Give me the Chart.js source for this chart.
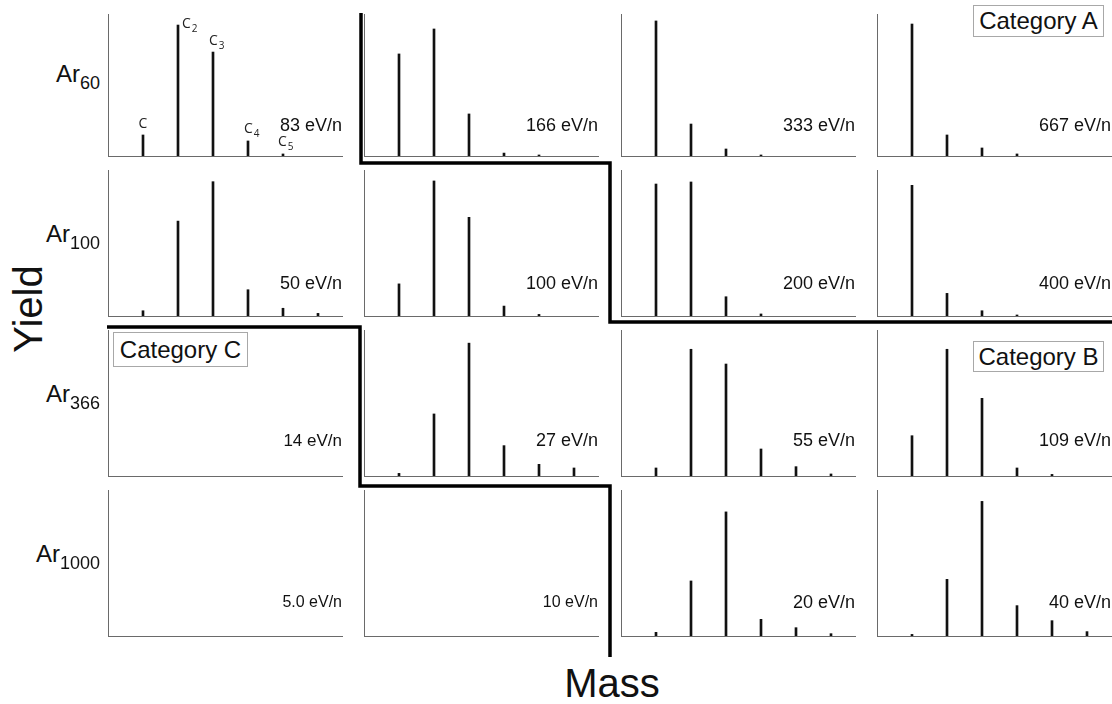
<!DOCTYPE html>
<html>
<head>
<meta charset="utf-8">
<script src="https://cdn.jsdelivr.net/npm/chart.js@4.4.1/dist/chart.umd.min.js"></script>
<style>
  body { margin: 0; background: #fff; }
  #page { position: relative; width: 1112px; height: 704px; overflow: hidden; font-family: "Liberation Sans", Arial, sans-serif; color: #111; }
  #page canvas { position: absolute; }
  .txt { position: absolute; line-height: 1; white-space: nowrap; }
  .box { position: absolute; border: 1px solid #a8a8a8; background: #fff; font-size: 24px; line-height: 1; display: flex; align-items: center; justify-content: center; box-sizing: border-box; }
  sub { font-size: 18px; vertical-align: baseline; position: relative; top: 7px; }
</style>
</head>
<body>
<div id="page">
  <svg id="steps" width="1112" height="704" style="position:absolute;left:0;top:0;z-index:2">
    <polyline points="361,13 361,163 610,163 610,322 1112,322" fill="none" stroke="#000" stroke-width="3.5"/>
    <polyline points="107,327 360,327 360,486 610,486 610,657" fill="none" stroke="#000" stroke-width="3.5"/>
  </svg>
</div>
<script>
// cluster size n for each stick (C, C2, C3 ...)
const clusterSizes = [1, 2, 3, 4, 5, 6];
const clusterNames = ['C', 'C2', 'C3', 'C4', 'C5'];

// argon cluster sizes (rows) and energy per nucleon (columns)
const argonSizes = ['60', '100', '366', '1000'];
const energyLabels = [
    ['83', '166', '333', '667'],
    ['50', '100', '200', '400'],
    ['14', '27', '55', '109'],
    ['5.0', '10', '20', '40']
];

// yields, % of panel height, one array per energy
const yieldAr60 = [
    [14.4, 89.7, 71.2, 10.3, 1.4],
    [69.9, 87.0, 28.8, 2.0, 0.7],
    [92.5, 21.9, 4.8, 0.7],
    [90.4, 14.4, 5.5, 1.4]
];
const yieldAr100 = [
    [3.6, 65.0, 92.0, 18.0, 5.3, 1.8],
    [22.0, 92.5, 67.6, 6.8, 1.1],
    [90.4, 91.8, 13.2, 1.4],
    [89.5, 15.5, 3.6, 0.7]
];
const yieldAr366 = [
    [],
    [1.8, 42.5, 91.0, 20.8, 8.0, 5.5],
    [5.5, 86.8, 76.7, 18.5, 6.4, 1.4],
    [27.6, 86.8, 53.2, 5.5, 1.1]
];
const yieldAr1000 = [
    [],
    [],
    [2.5, 37.7, 85.0, 11.4, 5.7, 1.6],
    [1.1, 38.8, 92.2, 20.8, 10.5, 3.0]
];
const allYields = [yieldAr60, yieldAr100, yieldAr366, yieldAr1000];

// layout of the grid
const colLeft = [108, 364, 621, 877];
const panelW = 234;
const rowTop = [14, 170, 330, 490];
const rowBase = [156, 316, 476, 636];
const fullH = 146;
const evBase = [131, 289, 446, 608];
const evSize = [[18, 18, 18, 18], [18, 18, 18, 18], [17, 18, 18, 18], [16, 16, 18, 18]];
const PAD = 4;

const page = document.getElementById('page');

function addText(html, left, baseline, size, extra) {
    const d = document.createElement('div');
    d.className = 'txt';
    d.innerHTML = html;
    d.style.fontSize = size + 'px';
    d.style.top = (baseline - 0.85 * size) + 'px';
    d.style.left = left + 'px';
    if (extra) Object.assign(d.style, extra);
    page.appendChild(d);
    return d;
}

// labels above the sticks of the first panel
const clusterLabelPlugin = {
    id: 'clusterLabels',
    afterDatasetsDraw(chart) {
        const ctx = chart.ctx;
        const bars = chart.getDatasetMeta(0).data;
        const shift = [[0, -7], [4, 3], [-4, -7], [-4, -8], [-5, -8]];
        ctx.save();
        ctx.fillStyle = '#222';
        bars.forEach((bar, i) => {
            const name = clusterNames[i];
            const x = bar.x + shift[i][0];
            const y = bar.y + shift[i][1];
            ctx.font = '14px "Open Sans"';
            ctx.textAlign = i === 0 ? 'center' : 'left';
            ctx.fillText('C', x, y);
            if (name.length > 1) {
                const w = ctx.measureText('C').width;
                ctx.font = '10px "Open Sans"';
                ctx.fillText(name.slice(1), x + w + 1, y + 4);
            }
        });
        ctx.restore();
    }
};

allYields.forEach((rowData, r) => {
    rowData.forEach((vals, c) => {
        const h = rowBase[r] - rowTop[r];
        const canvas = document.createElement('canvas');
        canvas.width = panelW + 2 * PAD;
        canvas.height = h + 2 * PAD;
        canvas.style.left = (colLeft[c] - PAD) + 'px';
        canvas.style.top = (rowTop[r] - PAD) + 'px';
        page.appendChild(canvas);

        const axis = {
            grid: { display: false, drawTicks: false },
            ticks: { display: false },
            border: { display: true, color: '#6a6a6a', width: 1 }
        };

        new Chart(canvas, {
            type: 'bar',
            data: {
                datasets: [{
                    data: vals.map((v, i) => ({ x: clusterSizes[i], y: v })),
                    backgroundColor: '#111',
                    barThickness: 2
                }]
            },
            options: {
                responsive: false,
                animation: false,
                layout: { padding: PAD },
                plugins: { legend: { display: false }, tooltip: { enabled: false } },
                scales: {
                    x: Object.assign({ type: 'linear', min: 0, max: panelW / 35, offset: false }, axis),
                    y: Object.assign({ min: 0, max: h / fullH * 100 }, axis)
                }
            },
            plugins: r === 0 && c === 0 ? [clusterLabelPlugin] : []
        });

        const ev = addText(energyLabels[r][c] + ' eV/n', 0, evBase[r], evSize[r][c],
            { width: '200px', textAlign: 'right' });
        ev.style.left = (colLeft[c] + panelW - 200) + 'px';
    });

    addText('Ar<sub>' + argonSizes[r] + '</sub>', 0, rowBase[r] - 74, 24,
        { width: '100px', textAlign: 'right' });
});

// category boxes
function addBox(text, left, top, w, h) {
    const b = document.createElement('div');
    b.className = 'box';
    b.textContent = text;
    Object.assign(b.style, { left: left + 'px', top: top + 'px', width: w + 'px', height: h + 'px' });
    page.appendChild(b);
}
addBox('Category A', 973, 5, 131, 32);
addBox('Category B', 973, 341, 131, 31);
addBox('Category C', 113, 332, 135, 35);

// axis titles
addText('Mass', 0, 697, 40, { width: '1224px', textAlign: 'center' });
const yl = addText('Yield', 0, 0, 40, {});
Object.assign(yl.style, { top: '309px', left: '28px', transform: 'translate(-50%, -50%) rotate(-90deg)' });
</script>
</body>
</html>
